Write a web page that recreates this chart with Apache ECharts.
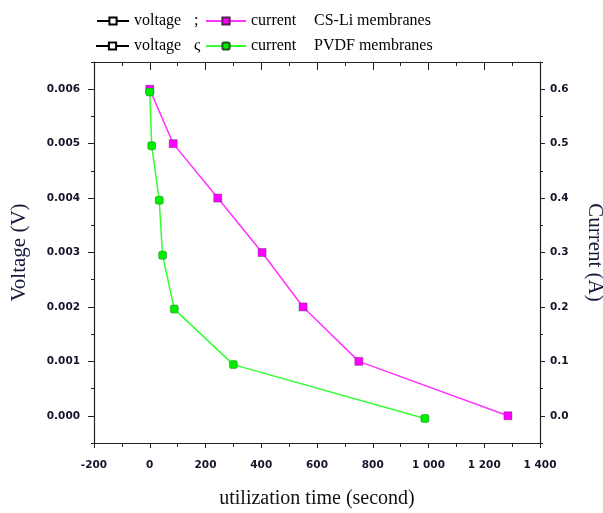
<!DOCTYPE html>
<html>
<head>
<meta charset="utf-8">
<script src="https://cdn.jsdelivr.net/npm/echarts@6/dist/echarts.min.js"></script>
<style>html,body{margin:0;padding:0;background:#fff}#c{width:603px;height:513px}</style>
</head>
<body>
<div id="c"></div>
<script>
// ---- data ----
var timeCSLi = [0, 84, 244, 403, 550, 750, 1285];
var currentCSLi = [0.6, 0.5, 0.4, 0.3, 0.2, 0.1, 0.0];
var timePVDF = [0, 7, 34, 46, 88, 300, 987];
var currentPVDF = [0.595, 0.496, 0.396, 0.295, 0.196, 0.094, -0.005];
var voltageMajorTicks = [0, 0.001, 0.002, 0.003, 0.004, 0.005, 0.006];
var voltageMinorTicks = [-0.0005, 0.0005, 0.0015, 0.0025, 0.0035, 0.0045, 0.0055, 0.0065];
var currentMajorTicks = [0, 0.1, 0.2, 0.3, 0.4, 0.5, 0.6];
var currentMinorTicks = [-0.05, 0.05, 0.15, 0.25, 0.35, 0.45, 0.55, 0.65];
var timeTicks = [-200, 0, 200, 400, 600, 800, 1000, 1200, 1400];

function pairs(xs, ys) { return xs.map(function (x, i) { return [x, ys[i]]; }); }

var serif = 'Liberation Serif';
var labelStyle = { fontFamily: 'DejaVu Sans', fontWeight: 'bold', fontSize: 10.5, color: '#14142a' };
var axisLineStyle = { onZero: false, lineStyle: { color: '#222', width: 1.2 } };

var chart = echarts.init(document.getElementById('c'));

function legendItem(name, left, top, w, fmt) {
  return {
    data: [name], left: left, top: top, orient: 'horizontal', selectedMode: false,
    itemWidth: w, itemHeight: 9, padding: 0,
    textStyle: {
      fontFamily: serif, fontSize: 16, color: '#000', lineHeight: 18,
      rich: {
        t: { fontFamily: serif, fontSize: 16, color: '#000', width: fmt.w },
        s: { fontFamily: serif, fontSize: 16, color: '#000' },
        m: { fontFamily: serif, fontSize: 16, color: '#000' }
      }
    },
    formatter: function () { return fmt.text; }
  };
}

var option = {
  backgroundColor: '#fff',
  animation: false,
  grid: { left: 94, right: 63, top: 62, bottom: 70, outerBoundsMode: 'none' },
  legend: [
    legendItem('voltage (CS-Li)', 96, 12, 32, { w: 60, text: '{t|voltage}{s|;}' }),
    legendItem('current (CS-Li)', 205, 12, 40, { w: 63, text: '{t|current}{m|CS-Li membranes}' }),
    legendItem('voltage (PVDF)', 95, 37, 33, { w: 60, text: '{t|voltage}{s|ς}' }),
    legendItem('current (PVDF)', 205, 37, 40, { w: 63, text: '{t|current}{m|PVDF membranes}' })
  ],
  xAxis: [
    {
      type: 'value', position: 'bottom', min: timeTicks[0], max: timeTicks[timeTicks.length - 1], interval: 200,
      name: 'utilization time (second)', nameLocation: 'middle', nameGap: 46,
      nameTextStyle: { fontFamily: serif, fontSize: 20, color: '#111' },
      axisLine: axisLineStyle,
      axisTick: { show: true, inside: false, length: 5, lineStyle: { color: '#222' } },
      minorTick: { show: true, splitNumber: 2, length: 4, lineStyle: { color: '#222' } },
      axisLabel: Object.assign({ margin: 17, formatter: function (v) {
        return Math.abs(v) >= 1000 ? String(v).replace(/(\d)(\d{3})$/, '$1 $2') : String(v);
      } }, labelStyle),
      splitLine: { show: false }
    },
    {
      type: 'value', position: 'top', min: timeTicks[0], max: timeTicks[timeTicks.length - 1], interval: 200,
      axisLine: axisLineStyle,
      axisTick: { show: true, inside: true, length: 8, lineStyle: { color: '#222' } },
      minorTick: { show: true, splitNumber: 2, length: 4, lineStyle: { color: '#222' } },
      axisLabel: { show: false },
      splitLine: { show: false }
    }
  ],
  yAxis: [
    {
      type: 'value', position: 'left', min: -0.0005, max: 0.0065,
      name: 'Voltage (V)', nameLocation: 'middle', nameGap: 64,
      nameTextStyle: { fontFamily: serif, fontSize: 21, color: '#15193a' },
      axisLine: axisLineStyle,
      axisTick: { show: true, length: 6, customValues: voltageMajorTicks, lineStyle: { color: '#222' } },
      axisLabel: Object.assign({ margin: 14, customValues: voltageMajorTicks, formatter: function (v) { return v.toFixed(3); } }, labelStyle),
      splitLine: { show: false }
    },
    {
      type: 'value', position: 'right', min: -0.05, max: 0.65,
      name: 'Current (A)', nameLocation: 'middle', nameGap: 44, nameRotate: -90,
      nameTextStyle: { fontFamily: serif, fontSize: 21, color: '#15193a' },
      axisLine: axisLineStyle,
      axisTick: { show: true, length: 5, customValues: currentMajorTicks, lineStyle: { color: '#222' } },
      axisLabel: Object.assign({ margin: 10, customValues: currentMajorTicks, formatter: function (v) { return v.toFixed(1); } }, labelStyle),
      splitLine: { show: false }
    },
    {
      type: 'value', position: 'left', min: -0.0005, max: 0.0065,
      axisLine: { show: false, onZero: false },
      axisTick: { show: true, length: 3, customValues: voltageMinorTicks, lineStyle: { color: '#222' } },
      axisLabel: { show: false }, splitLine: { show: false }
    },
    {
      type: 'value', position: 'right', min: -0.05, max: 0.65,
      axisLine: { show: false, onZero: false },
      axisTick: { show: true, length: 3, customValues: currentMinorTicks, lineStyle: { color: '#222' } },
      axisLabel: { show: false }, splitLine: { show: false }
    }
  ],
  series: [
    {
      name: 'voltage (CS-Li)', type: 'line', xAxisIndex: 0, yAxisIndex: 0, data: [],
      symbol: 'rect', symbolSize: 7,
      itemStyle: { color: '#fff', borderColor: '#000', borderWidth: 1 },
      lineStyle: { color: '#000', width: 1.3 }
    },
    {
      name: 'current (CS-Li)', type: 'line', xAxisIndex: 0, yAxisIndex: 1,
      data: pairs(timeCSLi, currentCSLi),
      symbol: 'rect', symbolSize: 8,
      itemStyle: { color: '#ff00ff', borderColor: '#552255', borderWidth: 0.4 },
      lineStyle: { color: '#ff33ff', width: 1.5 }
    },
    {
      name: 'voltage (PVDF)', type: 'line', xAxisIndex: 0, yAxisIndex: 0, data: [],
      symbol: 'rect', symbolSize: 7,
      itemStyle: { color: '#fff', borderColor: '#000', borderWidth: 1 },
      lineStyle: { color: '#000', width: 1.3 }
    },
    {
      name: 'current (PVDF)', type: 'line', xAxisIndex: 0, yAxisIndex: 1,
      data: pairs(timePVDF, currentPVDF),
      symbol: 'roundRect', symbolSize: 8,
      itemStyle: { color: '#00ee00', borderColor: '#225522', borderWidth: 0.4 },
      lineStyle: { color: '#33ff33', width: 1.5 }
    }
  ]
};
chart.setOption(option);
</script>
</body>
</html>
